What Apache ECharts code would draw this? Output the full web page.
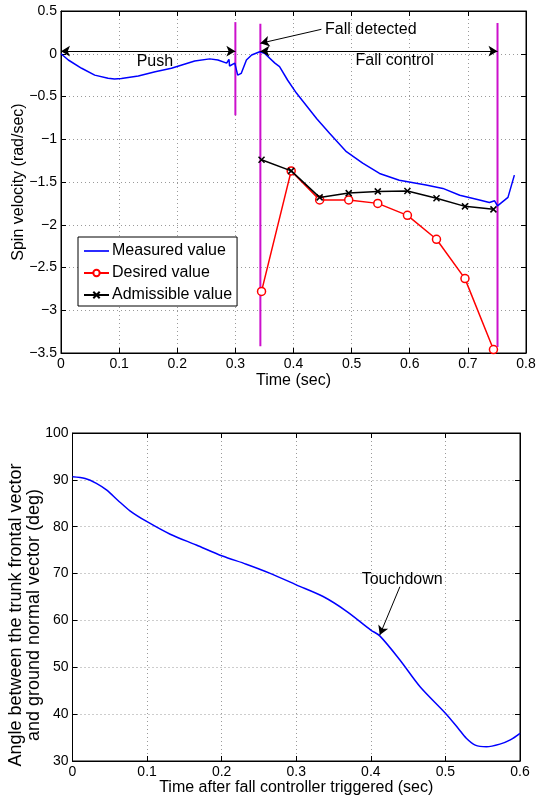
<!DOCTYPE html>
<html><head><meta charset="utf-8">
<script src="https://cdn.jsdelivr.net/npm/echarts@6/dist/echarts.min.js"></script>
<style>html,body{margin:0;padding:0;background:#fff}#c{width:537px;height:799px}</style>
</head><body><div id="c"></div>
<script>
// ---- Top chart data (Time sec, Spin velocity rad/sec) ----
const measuredT = [0,0.0126,0.0355,0.058,0.081,0.092,0.104,0.133,0.162,0.19,0.23,0.256,0.270,0.285,0.289,0.290,0.299,0.304,0.310,0.319,0.328,0.342,0.350,0.368,0.371,0.376,0.390,0.405,0.440,0.462,0.491,0.519,0.548,0.582,0.628,0.657,0.686,0.720,0.737,0.746,0.751,0.769,0.780];
const measuredV = [0,-0.073,-0.17,-0.25,-0.287,-0.295,-0.29,-0.26,-0.21,-0.17,-0.085,-0.06,-0.073,-0.11,-0.065,-0.143,-0.11,-0.25,-0.23,-0.073,-0.015,0.024,0.005,-0.11,-0.09,-0.15,-0.31,-0.46,-0.76,-0.93,-1.145,-1.28,-1.40,-1.48,-1.535,-1.575,-1.655,-1.71,-1.74,-1.72,-1.78,-1.68,-1.42];
const ctrlT = [0.345,0.396,0.445,0.495,0.545,0.596,0.646,0.695,0.744];
const desiredV = [-2.78,-1.37,-1.71,-1.71,-1.75,-1.89,-2.17,-2.63,-3.46];
const admissibleV = [-1.24,-1.37,-1.68,-1.63,-1.61,-1.605,-1.69,-1.785,-1.82];
const eventT = [0.300,0.343,0.751];
const eventTop = [0.37,0.35,0.36];
const eventBottom = [-0.72,-3.42,-3.43];
const legendNames = ['Measured value','Desired value','Admissible value'];

// ---- Bottom chart data (Time after trigger sec, angle deg) ----
const angleT = [0,0.017,0.032,0.046,0.061,0.077,0.100,0.131,0.166,0.201,0.233,0.265,0.300,0.336,0.368,0.400,0.412,0.439,0.466,0.500,0.517,0.528,0.540,0.555,0.573,0.587,0.600];
const angleV = [90.67,90.3,89.26,87.8,85.6,83.4,81.07,78.4,76.1,73.75,72.0,70.05,67.6,65.1,61.9,57.95,56.7,51.55,45.85,40.2,37.0,34.85,33.4,33.05,33.6,34.5,35.9];

const FONT = "'Liberation Sans', Arial, sans-serif";
const zip = (a,b) => a.map((v,i)=>[v,b[i]]);
const minus = v => String(Math.round(v*1000)/1000).replace('-', '\u2212');

function mainX(grid, min, max, interval, name, gap) {
  return {type:'value', gridIndex:grid, min, max, interval, name, nameLocation:'middle', nameGap:gap, nameMoveOverlap:false,
    nameTextStyle:{color:'#000', fontSize:16, fontFamily:FONT},
    axisLine:{show:true, onZero:false, lineStyle:{color:'#000', width:1}},
    axisTick:{show:true, inside:true, length:5, lineStyle:{color:'#000'}},
    axisLabel:{color:'#000', fontSize:14, fontFamily:FONT, margin:4, formatter:minus},
    splitLine:{show:true, lineStyle:{color:'#9a9a9a', type:[1,3], width:1}}};
}
function mainY(grid, min, max, interval, name, gap, nameStyle) {
  return {type:'value', gridIndex:grid, min, max, interval, name, nameLocation:'middle', nameGap:gap, nameMoveOverlap:false,
    nameTextStyle:Object.assign({color:'#000', fontSize:16, fontFamily:FONT, lineHeight:18}, nameStyle||{}),
    axisLine:{show:true, onZero:false, lineStyle:{color:'#000', width:1}},
    axisTick:{show:true, inside:true, length:5, lineStyle:{color:'#000'}},
    axisLabel:{color:'#000', fontSize:14, fontFamily:FONT, margin:4, formatter:minus},
    splitLine:{show:true, lineStyle:{color:'#9a9a9a', type:[1,3], width:1}}};
}
function sideAxis(grid, min, max, interval, pos) {
  return {type:'value', gridIndex:grid, min, max, interval, position:pos,
    axisLine:{show:true, onZero:false, lineStyle:{color:'#000', width:1}},
    axisTick:{show:true, inside:true, length:5, lineStyle:{color:'#000'}},
    axisLabel:{show:false}, splitLine:{show:false}};
}
function textPoint(x, y, text) {
  return {coord:[x,y], symbol:'rect', symbolSize:1, itemStyle:{color:'rgba(0,0,0,0)'},
    label:{show:true, position:'inside', formatter:text, color:'#000', fontSize:16, fontFamily:FONT}};
}

const chart = echarts.init(document.getElementById('c'), null, {renderer:'canvas'});
chart.setOption({
  animation:false,
  backgroundColor:'#fff',
  textStyle:{fontFamily:FONT},
  grid:[
    {left:61, right:11, top:11, height:342, show:true, borderColor:'#000', borderWidth:1, backgroundColor:'#fff', containLabel:false, outerBoundsMode:'none'},
    {left:72.5, right:17, top:433, height:328, show:true, borderColor:'#000', borderWidth:1, backgroundColor:'#fff', containLabel:false, outerBoundsMode:'none'}
  ],
  xAxis:[
    mainX(0, 0, 0.8, 0.1, 'Time (sec)', 20),
    sideAxis(0, 0, 0.8, 0.1, 'top'),
    mainX(1, 0, 0.6, 0.1, 'Time after fall controller triggered (sec)', 19),
    sideAxis(1, 0, 0.6, 0.1, 'top')
  ],
  yAxis:[
    mainY(0, -3.5, 0.5, 0.5, 'Spin velocity (rad/sec)', 33),
    sideAxis(0, -3.5, 0.5, 0.5, 'right'),
    mainY(1, 30, 100, 10, 'Angle between the trunk frontal vector\nand ground normal vector (deg)', 29,
      {fontSize:18, lineHeight:18, padding:[0,36,0,0]}),
    sideAxis(1, 30, 100, 10, 'right')
  ],
  legend:{
    data:[{name:legendNames[0], icon:'path://M0,0H30V2H0Z'}, {name:legendNames[1]}, {name:legendNames[2]}],
    orient:'vertical', left:78, top:237, itemWidth:25, itemHeight:8, itemGap:6,
    padding:[6,5,3,5], borderColor:'#000', borderWidth:1, backgroundColor:'#fff',
    textStyle:{color:'#000', fontSize:16, fontFamily:FONT, lineHeight:16, padding:[0,0,0,-2]}
  },
  series:[
    {name:'events', type:'line', xAxisIndex:0, yAxisIndex:0, data:[], silent:true,
      markLine:{silent:true, animation:false, symbol:['arrow','arrow'], symbolSize:[8,9], label:{show:false},
        lineStyle:{color:'#000', width:1, type:'solid'},
        data:[
          [{coord:[0,0.03]},{coord:[eventT[0],0.03]}],
          [{coord:[eventT[1],0.03]},{coord:[eventT[2],0.03]}],
          [{coord:[0.448,0.286], symbol:'none'},{coord:[eventT[1],0.122], symbol:'arrow'}]
        ]},
      markPoint:{silent:true, animation:false, data:[
        textPoint(0.1615,-0.097,'Push'),
        textPoint(0.574,-0.085,'Fall control'),
        textPoint(0.533,0.278,'Fall detected')
      ]}
    },
    ...eventT.map((t,i)=>({name:'ev'+i, type:'line', xAxisIndex:0, yAxisIndex:0, symbol:'none', silent:true,
      data:[[t,eventTop[i]],[t,eventBottom[i]]], lineStyle:{color:'#cc10cc', width:2}, z:1})),
    {name:legendNames[0], type:'line', xAxisIndex:0, yAxisIndex:0, data:zip(measuredT,measuredV),
      symbol:'none', lineStyle:{color:'#0000ff', width:1.5}, itemStyle:{color:'#0000ff'}, color:'#0000ff', z:3},
    {name:legendNames[1], type:'line', xAxisIndex:0, yAxisIndex:0, data:zip(ctrlT,desiredV),
      symbol:'circle', symbolSize:8, showSymbol:true,
      lineStyle:{color:'#ff0000', width:1.5}, itemStyle:{color:'#fff', borderColor:'#ff0000', borderWidth:1.5}, color:'#ff0000', z:4},
    {name:legendNames[2], type:'line', xAxisIndex:0, yAxisIndex:0, data:zip(ctrlT,admissibleV),
      symbol:'path://M0,0L10,10M10,0L0,10', symbolSize:6, showSymbol:true,
      lineStyle:{color:'#000', width:1.5}, itemStyle:{color:'#000', borderColor:'#000', borderWidth:1.5}, color:'#000', z:5},
    {name:'angle', type:'line', xAxisIndex:2, yAxisIndex:2, data:zip(angleT,angleV), smooth:0.3,
      symbol:'none', lineStyle:{color:'#0000ff', width:1.5},
      markLine:{silent:true, animation:false, symbol:['none','arrow'], symbolSize:[8,9], label:{show:false},
        lineStyle:{color:'#000', width:1, type:'solid'},
        data:[[{coord:[0.439,67.2]},{coord:[0.412,56.9]}]]},
      markPoint:{silent:true, animation:false, data:[textPoint(0.442,68.8,'Touchdown')]}
    }
  ]
});
</script></body></html>
